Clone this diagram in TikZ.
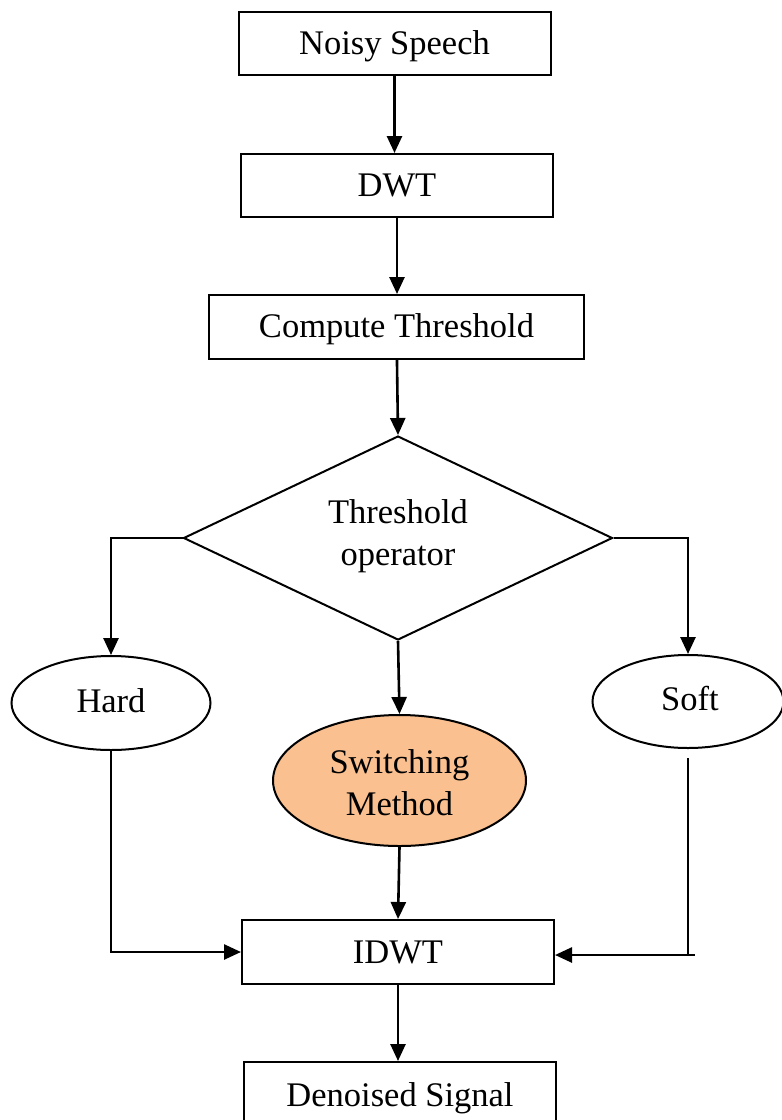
\documentclass[tikz,border=0pt]{standalone}
\usepackage{fontspec}
\setmainfont{Liberation Serif}
\usetikzlibrary{shapes.geometric,arrows.meta}
\definecolor{peach}{HTML}{FAC090}
\tikzset{
  txt/.style={font=\fontsize{34.5}{42}\selectfont, align=center, inner sep=0pt},
  stepbox/.style={txt, draw, line width=2pt, rectangle, minimum width=312pt, minimum height=63pt},
  choice/.style={txt, draw, line width=2pt, diamond, minimum width=429pt, minimum height=204pt},
  oval/.style={txt, draw, line width=2pt, ellipse},
  flow/.style={line width=2.6pt, -{Triangle[length=17pt,width=15pt]}},
  plain/.style={line width=2.6pt}
}
\begin{document}
\begin{tikzpicture}[x=1pt,y=-1pt]
\useasboundingbox (0,0) rectangle (782,1120);
\clip (0,0) rectangle (782,1120);

% processing chain
\node[stepbox] (noisy) at (394.5,43.5) {};
\node[txt] at (394.5,46) {Noisy Speech};
\node[stepbox] (dwt) at (397,185.5) {DWT};
\node[stepbox, minimum width=375pt, minimum height=64pt] (thr) at (396.5,327) {};
\node[txt] at (396.5,329) {Compute Threshold};
\node[choice] (op) at (398,538) {};
\node[txt] (optext) at (398,536) {Threshold\\operator};

% threshold rules
\node[oval, minimum width=199pt, minimum height=94pt] (hard) at (111,703) {};
\node[txt] at (111,701) {Hard};
\node[oval, minimum width=191pt, minimum height=93pt] (soft) at (688,701.5) {};
\node[txt] at (690,699) {Soft};
\node[oval, fill=peach, minimum width=253pt, minimum height=131pt] (sw) at (399.5,780.5) {};
\node[txt] at (399.5,783) {Switching\\Method};

% reconstruction
\node[stepbox, minimum height=64pt] (idwt) at (398,952) {IDWT};
\node[stepbox, minimum height=64pt] (den) at (400,1094) {};
\node[txt] at (400,1098) {Denoised Signal};

% connectors
\draw[flow] (noisy) -- (noisy |- dwt.north);
\draw[flow] (dwt) -- (dwt |- thr.north);
\draw[flow] (thr) -- (op.north);
\draw[flow] (op.west) -| (hard.north);
\draw[flow] (op.east) -| (soft.north);
\draw[flow] (op.south) -- (sw.north);
\draw[flow] (sw.south) -- (idwt.north);
\draw[flow] (hard.south) |- (idwt.west);
\coordinate (softtop) at ([yshift=-9pt]soft.south);
\coordinate (softturn) at ([yshift=-3pt]softtop |- idwt.east);
\draw[flow] (softtop) -- (softturn) -- ([yshift=-3pt]idwt.east);
\draw[plain] (softturn) -- ++(7,0);
\draw[flow] (idwt) -- (idwt.south |- den.north);
\end{tikzpicture}
\end{document}
